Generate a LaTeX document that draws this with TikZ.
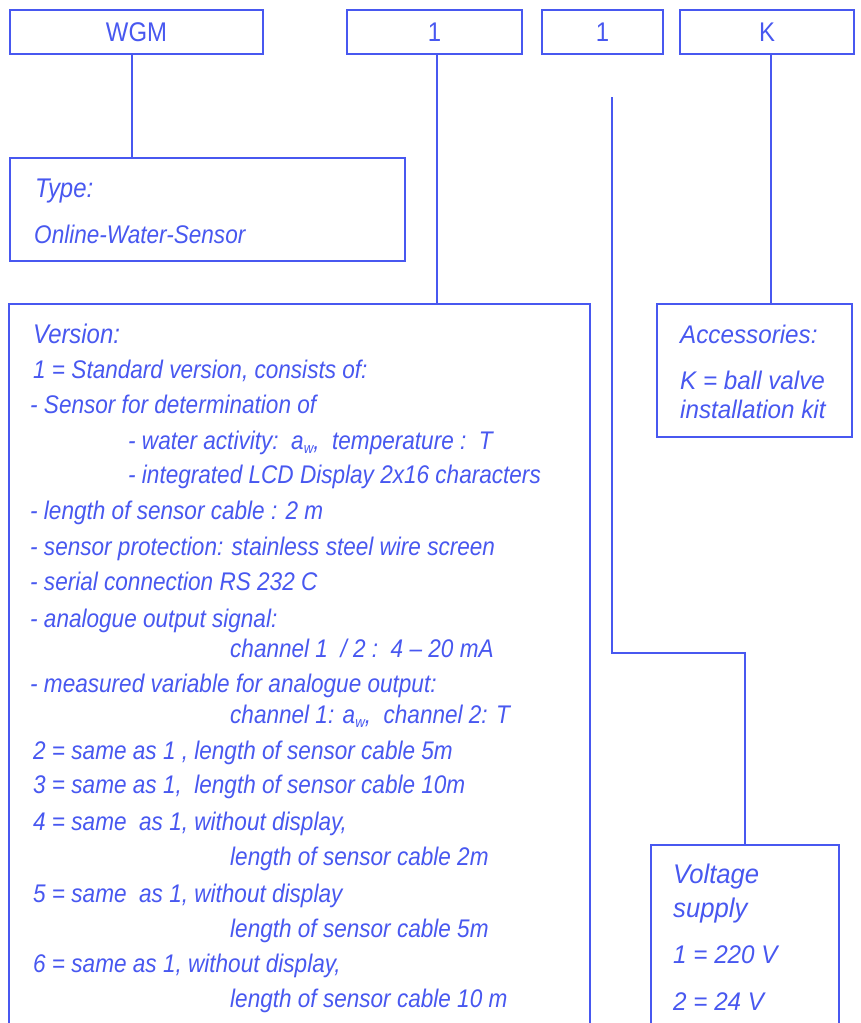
\documentclass[tikz,border=0pt]{standalone}
\usepackage{fontspec}
\setmainfont{Liberation Sans}[FakeStretch=0.885]
\newfontfamily\widefont{Liberation Sans}[FakeStretch=0.95]
\definecolor{ink}{RGB}{72,88,240}
\newcommand{\awsub}{a\raisebox{-0.35ex}{\fontsize{15}{15}\selectfont w}}
\begin{document}
\begin{tikzpicture}[x=1pt,y=-1pt,
  box/.style={draw=ink, line width=1.2pt, rectangle, inner sep=0pt, anchor=center, text=ink},
  hdr/.style={box, minimum height=44pt, font=\fontsize{27}{30}\selectfont},
  txt/.style={anchor=base west, inner sep=0pt, text=ink, font=\itshape\fontsize{25.5}{30}\selectfont},
  big/.style={txt, font=\itshape\fontsize{27}{30}\selectfont},
  wtxt/.style={anchor=base west, inner sep=0pt, text=ink, font=\widefont\itshape\fontsize{25.5}{30}\selectfont},
  wbig/.style={wtxt, font=\widefont\itshape\fontsize{27}{30}\selectfont},
  conn/.style={draw=ink, line width=1.2pt}]
\useasboundingbox (0,0) rectangle (861,1023);
\fill[white] (0,0) rectangle (861,1023);
\clip (0,0) rectangle (861,1023);

% header boxes
\node[hdr, minimum width=253pt] (hWGM) at (136.5,32) {WGM};
\node[hdr, minimum width=175pt] (hA) at (434.5,32) {1};
\node[hdr, minimum width=121pt] (hB) at (602.5,32) {1};
\node[hdr, minimum width=174pt] (hK) at (767,32) {K};

% detail boxes
\node[box, minimum width=395pt, minimum height=103pt] (type) at (207.5,209.5) {};
\node[box, minimum width=581pt, minimum height=740pt] (version) at (299.5,674) {};
\node[box, minimum width=195pt, minimum height=133pt] (acc) at (754.5,370.5) {};
\node[box, minimum width=188pt, minimum height=200pt] (volt) at (745,945) {};

% connectors
\draw[conn] ([xshift=-4.5pt]hWGM.south) -- ([xshift=-4.5pt]hWGM.south |- type.north);
\draw[conn] ([xshift=2.5pt]hA.south) -- ([xshift=2.5pt]hA.south |- version.north);
\draw[conn] ([xshift=4pt]hK.south) -- ([xshift=4pt]hK.south |- acc.north);
\coordinate (vstart) at (612,97);
\coordinate (vmid) at (612,653);
\draw[conn] (vstart) -- (vmid) -| (volt.north);

% type text
\node[big] (t1) at (35,197) {Type:};
\node[txt] (t2) at (34,243) {Online-Water-Sensor};

% version text
\node[big] (v0) at (33,343) {Version:};
\node[txt] (v1) at (33,378) {1 = Standard version, consists of:};
\node[txt] (v2) at (30,413) {- Sensor for determination of};
\node[txt] (v3) at (128,449) {- water activity:\ \ \awsub,\ \ temperature :\ \ T};
\node[txt] (v4) at (128,483) {- integrated LCD Display 2x16 characters};
\node[txt] (v5) at (30,519) {- length of sensor cable : 2 m};
\node[txt] (v6) at (30,555) {- sensor protection: stainless steel wire screen};
\node[txt] (v7) at (30,590) {- serial connection RS 232 C};
\node[txt] (v8) at (30,627) {- analogue output signal:};
\node[txt] (v9) at (230,657) {channel 1\ \ / 2 :\ \ 4 -- 20 mA};
\node[txt] (v10) at (30,692) {- measured variable for analogue output:};
\node[txt] (v11) at (230,723) {channel 1: \awsub,\ \ channel 2: T};
\node[txt] (v12) at (33,759) {2 = same as 1 , length of sensor cable 5m};
\node[txt] (v13) at (33,793) {3 = same as 1,\ \ length of sensor cable 10m};
\node[txt] (v14) at (33,830) {4 = same\ \ as 1, without display,};
\node[txt] (v15) at (230,865) {length of sensor cable 2m};
\node[txt] (v16) at (33,902) {5 = same\ \ as 1, without display};
\node[txt] (v17) at (230,937) {length of sensor cable 5m};
\node[txt] (v18) at (33,972) {6 = same as 1, without display,};
\node[txt] (v19) at (230,1007) {length of sensor cable 10 m};

% accessories text
\node[wtxt] (a1) at (680,343) {Accessories:};
\node[wtxt] (a2) at (680,389) {K = ball valve};
\node[wtxt] (a3) at (680,418) {installation kit};

% voltage text
\node[wbig] (s1) at (673,883) {Voltage};
\node[wbig] (s2) at (673,917) {supply};
\node[wtxt] (s3) at (673,963) {1 = 220 V};
\node[wtxt] (s4) at (673,1010) {2 = 24 V};
\end{tikzpicture}
\end{document}
